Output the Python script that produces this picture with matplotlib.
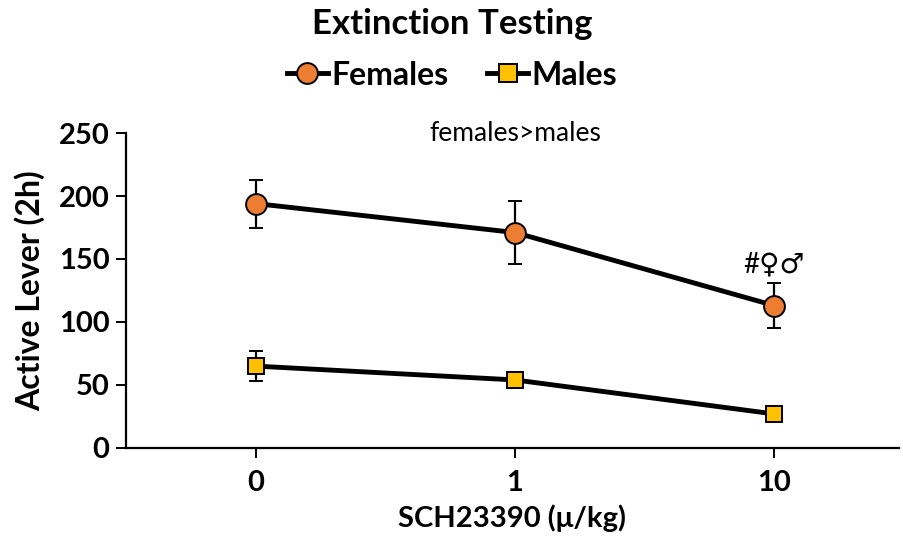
import numpy as np
import matplotlib
matplotlib.use("Agg")
import matplotlib.pyplot as plt
from matplotlib.lines import Line2D

plt.rcParams['font.family'] = ['Lato', 'DejaVu Sans']

# Data
doses = ['0', '1', '10']
females = [194, 171, 113]
females_err = [19, 25, 18]
males = [65, 54, 27]
males_err = [12, 6, 2]

fig = plt.figure(figsize=(9.04, 5.44), dpi=100)
ax = fig.add_axes([0.1394, 0.1765, 0.855, 0.579])

x = np.arange(len(doses))

style = dict(color='black', lw=3.5, ecolor='black', elinewidth=1.6, capsize=5,
             capthick=1.6, markeredgecolor='black', markeredgewidth=1.4, zorder=3)
ax.errorbar(x, females, yerr=females_err, marker='o', markersize=15,
            markerfacecolor='#ED7D31', **style)
ax.errorbar(x, males, yerr=males_err, marker='s', markersize=12,
            markerfacecolor='#FFC000', **style)

ax.set_xlim(-0.5, 2.48)
ax.set_ylim(0, 250)
ax.set_yticks([0, 50, 100, 150, 200, 250])
ax.set_xticks(x)
ax.set_xticklabels(doses)

for s in ['top', 'right']:
    ax.spines[s].set_visible(False)
for s in ['left', 'bottom']:
    ax.spines[s].set_linewidth(1.6)

ax.tick_params(axis='both', direction='out', length=7, width=1.4, labelsize=21)
ax.tick_params(axis='y', pad=5)
ax.tick_params(axis='x', pad=9)
for lab in ax.get_xticklabels() + ax.get_yticklabels():
    lab.set_fontweight('bold')

ax.set_ylabel('Active Lever (2h)', fontsize=23, fontweight='bold', labelpad=10)
ax.set_xlabel('SCH23390 (\u03bc/kg)', fontsize=21, fontweight='bold', labelpad=6)

ax.text(1, 250, 'females>males', ha='center', va='center', fontsize=19)
ax.text(2, 135, '#\u2640\u2642', ha='center', va='bottom', fontsize=20,
        family=['Lato', 'DejaVu Sans'])

fig.text(0.5, 0.955, 'Extinction Testing', ha='center', va='center',
         fontsize=25, fontweight='bold')

handles = [
    Line2D([], [], color='black', lw=3.5, marker='o', markersize=15,
           markerfacecolor='#ED7D31', markeredgecolor='black', markeredgewidth=1.4),
    Line2D([], [], color='black', lw=3.5, marker='s', markersize=13,
           markerfacecolor='#FFC000', markeredgecolor='black', markeredgewidth=1.4),
]
fig.legend(handles, ['Females', 'Males'], loc='center',
           bbox_to_anchor=(0.5, 0.862), ncol=2, frameon=False,
           prop={'size': 23, 'weight': 'bold'}, handlelength=1.3,
           handletextpad=0.1, columnspacing=1.2)

fig.savefig('out.png', dpi=100)
